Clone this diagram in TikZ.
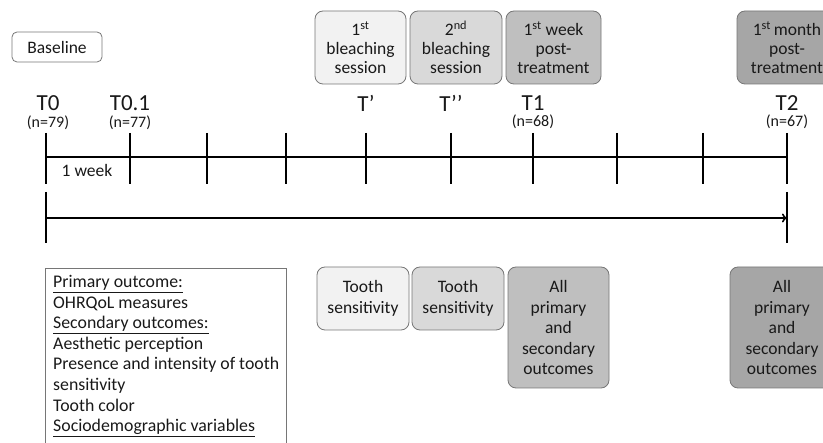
\documentclass[tikz,border=0pt]{standalone}
\usepackage{fontspec}
\setmainfont{Carlito}
\usetikzlibrary{arrows.meta}
\definecolor{shadeA}{HTML}{F2F2F2}
\definecolor{shadeB}{HTML}{D9D9D9}
\definecolor{shadeC}{HTML}{BFBFBF}
\definecolor{shadeD}{HTML}{A6A6A6}
\definecolor{edgegray}{HTML}{767676}
\begin{document}
\begin{tikzpicture}[
  x=1pt, y=-1pt,
  every node/.style={font=\fontsize{17.5}{19}\selectfont, text=black!90},
  phase/.style={draw=edgegray, line width=0.8pt, rounded corners=8pt, align=center, inner sep=2pt, minimum height=73pt},
  measure/.style={draw=edgegray, line width=0.8pt, rounded corners=8pt, align=center, inner sep=2pt, font=\fontsize{17.5}{20.5}\selectfont},
  tlabel/.style={font=\fontsize{23}{25}\selectfont},
  nlabel/.style={font=\fontsize{16}{18}\selectfont},
  axis/.style={line width=1.6pt}
]
\useasboundingbox (0,0) rectangle (823,443);
\node[draw=edgegray, line width=0.8pt, rounded corners=5pt, minimum width=90pt, minimum height=30pt] (baseline) at (57,47) {Baseline};
\node[phase, fill=shadeA, minimum width=91pt] (first) at (360.5,47.5) {1\textsuperscript{st}\\bleaching\\session};
\node[phase, fill=shadeB, minimum width=92pt] (second) at (456,47.5) {2\textsuperscript{nd}\\bleaching\\session};
\node[phase, fill=shadeC, minimum width=95pt] (week) at (553.5,47.5) {1\textsuperscript{st} week\\post-\\treatment};
\node[phase, fill=shadeD, minimum width=100pt] (month) at (787,47.5) {1\textsuperscript{st}\,month\\post-\\treatment};
% time points
\node[tlabel] (T0) at (48,103) {T0};
\node[nlabel] (n0) at (48,123) {(n=79)};
\node[tlabel] (T01) at (130,103) {T0.1};
\node[nlabel] (n01) at (130,123) {(n=77)};
\node[tlabel] (Tp) at (366,103) {T'};
\node[tlabel] (Tpp) at (451,103) {T’’};
\node[tlabel] (T1) at (533,103) {T1};
\node[nlabel] (n1) at (533,122) {(n=68)};
\node[tlabel] (T2) at (787,103) {T2};
\node[nlabel] (n2) at (787,122) {(n=67)};
% weekly ticks
\coordinate (w0) at (46,157);
\coordinate (w1) at (130,157);
\coordinate (w2) at (207,157);
\coordinate (w3) at (286,157);
\coordinate (w4) at (366,157);
\coordinate (w5) at (451,157);
\coordinate (w6) at (533,157);
\coordinate (w7) at (617,157);
\coordinate (w8) at (703,157);
\coordinate (w9) at (787,157);
\draw[axis] (w0) -- (w9);
\foreach \w in {w0,w1,w2,w3,w4,w5,w6,w7,w8,w9}
  \draw[axis] ([yshift=24pt]\w) -- ([yshift=-27pt]\w);
\node (oneweek) at (87,170) {1 week};
% follow-up arrow
\coordinate (start) at (46,218);
\coordinate (stop) at (787,218);
\draw[axis, -{To[length=5pt,width=9pt]}] (start) -- (stop);
\draw[axis] ([yshift=26pt]start) -- ([yshift=-25pt]start);
\draw[axis] ([yshift=26pt]stop) -- ([yshift=-25pt]stop);
% outcomes
\node[anchor=north west, align=left, inner sep=0pt, font=\fontsize{17.8}{20.6}\selectfont] (outcomes) at (53,275)
  {\underline{Primary outcome:}\\OHRQoL measures\\\underline{Secondary outcomes:}\\Aesthetic perception\\Presence and intensity of tooth\\sensitivity\\Tooth color\\\underline{Sociodemographic variables}};
\draw[draw=edgegray, line width=0.8pt] (45,268) rectangle (286,460);
\node[measure, fill=shadeA, minimum width=92pt, minimum height=63pt] (sens1) at (363,298.5) {Tooth\\sensitivity};
\node[measure, fill=shadeB, minimum width=92pt, minimum height=63pt] (sens2) at (458,298.5) {Tooth\\sensitivity};
\node[measure, fill=shadeC, minimum width=101pt, minimum height=121pt] (all1) at (558.5,327.5) {All\\primary\\and\\secondary\\outcomes};
\node[measure, fill=shadeD, minimum width=104pt, minimum height=121pt] (all2) at (782,327.5) {All\\primary\\and\\secondary\\outcomes};
\end{tikzpicture}
\end{document}
